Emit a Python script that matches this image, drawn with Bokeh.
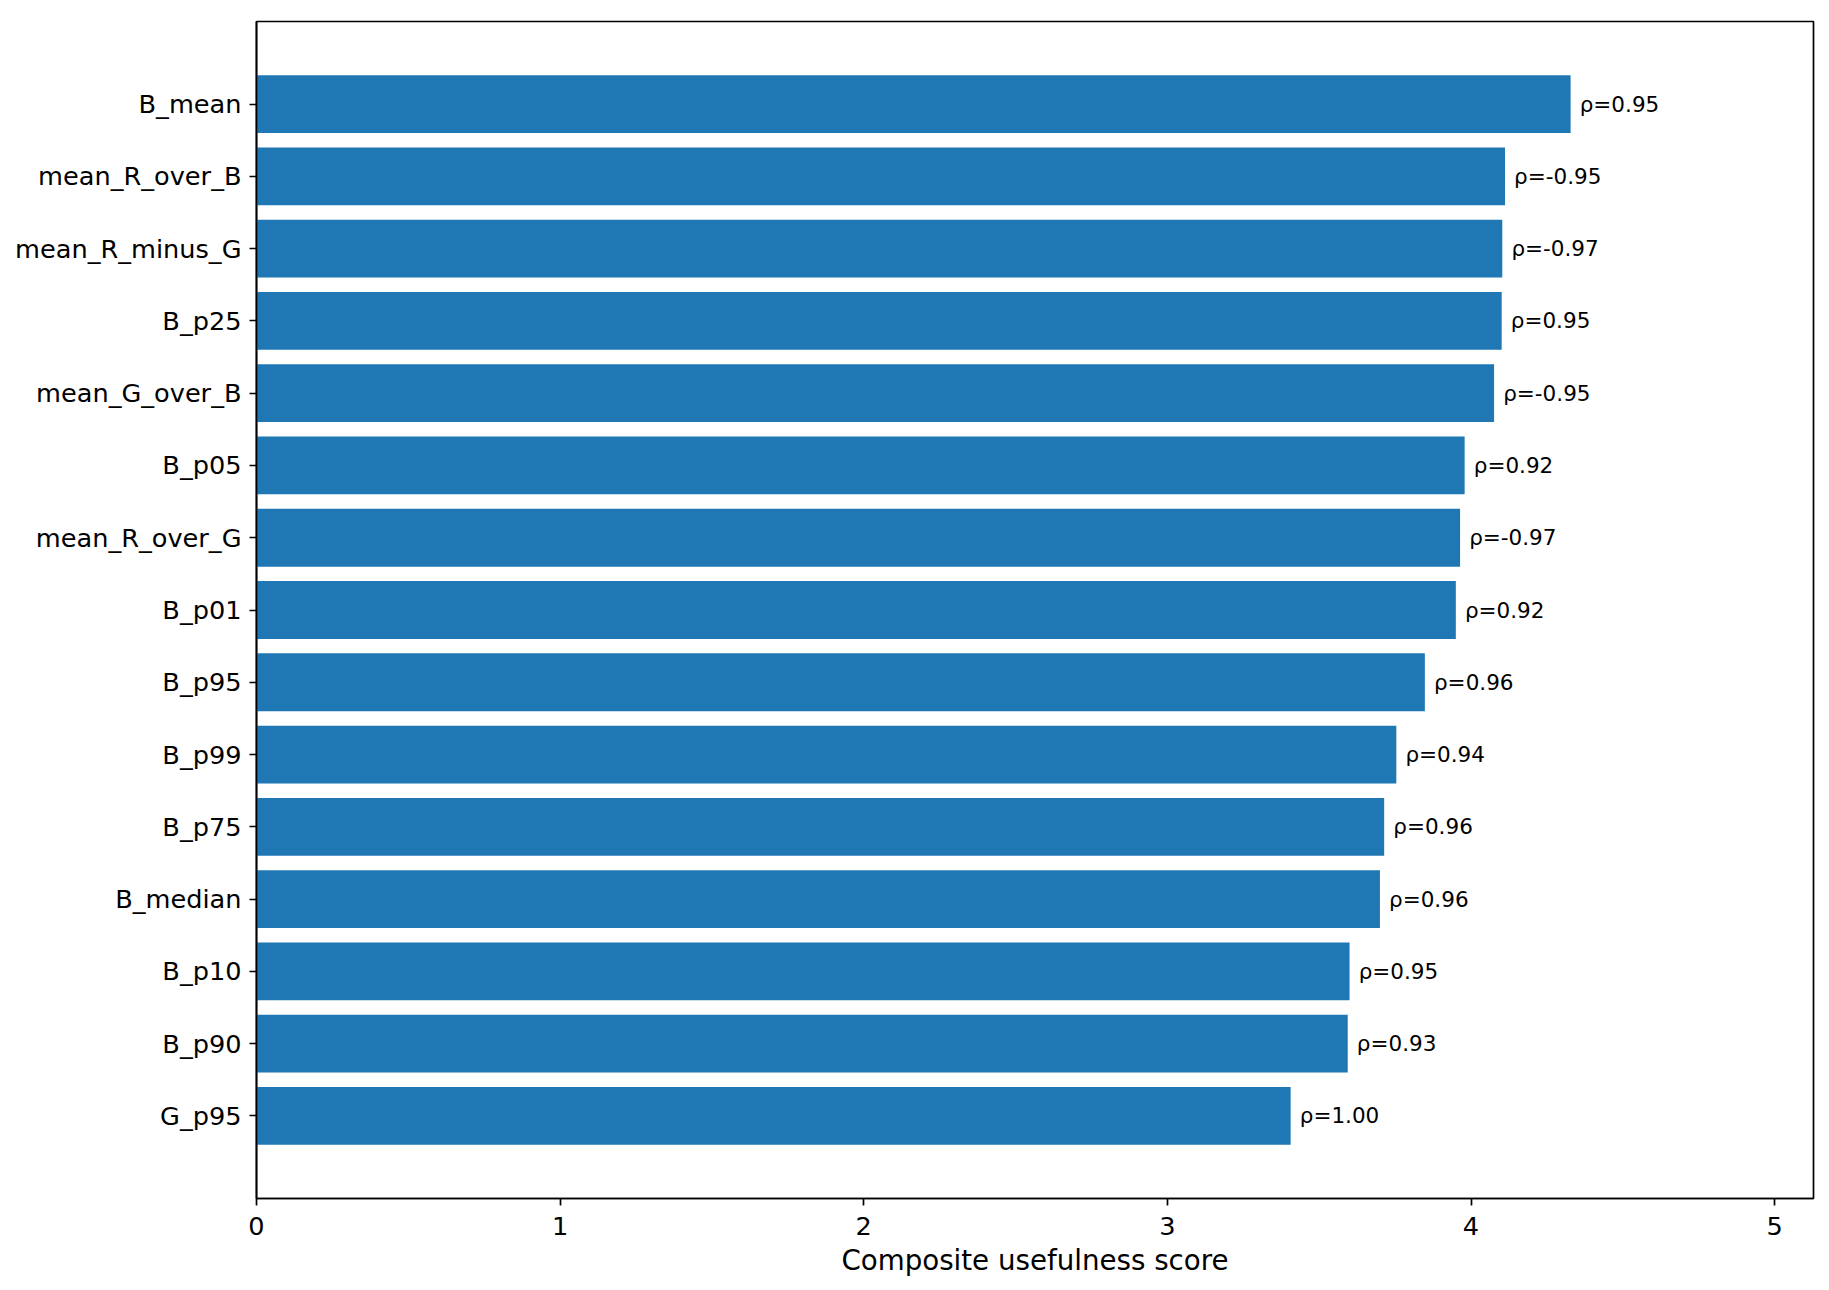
from bokeh.plotting import figure
from bokeh.models import Range1d, FixedTicker, ColumnDataSource
from bokeh.core.properties import value
from bokeh.embed import file_html
from bokeh.resources import INLINE

features = ["B_mean", "mean_R_over_B", "mean_R_minus_G", "B_p25", "mean_G_over_B",
            "B_p05", "mean_R_over_G", "B_p01", "B_p95", "B_p99", "B_p75",
            "B_median", "B_p10", "B_p90", "G_p95"]
scores = [4.328, 4.112, 4.103, 4.101, 4.076, 3.979, 3.964, 3.950, 3.848, 3.754,
          3.714, 3.700, 3.600, 3.594, 3.406]
rhos = [0.95, -0.95, -0.97, 0.95, -0.95, 0.92, -0.97, 0.92, 0.96, 0.94,
        0.96, 0.96, 0.95, 0.93, 1.00]
x_ticks = [0, 1, 2, 3, 4, 5]

n = len(features)
ypos = [n - 1 - i for i in range(n)]
labels = ["\u03c1={:.2f}".format(r) for r in rhos]

src = ColumnDataSource(dict(y=ypos, score=scores, lx=[s + 0.03 for s in scores], lab=labels))

FONT = "DejaVu Sans"
p = figure(width=1821, height=1288, output_backend="svg", toolbar_location=None,
           x_range=Range1d(0, 5.128), y_range=Range1d(-1.142, n - 1 + 1.142),
           min_border_left=256, min_border_right=8, min_border_top=21, min_border_bottom=90)

p.hbar(y="y", left=0, right="score", height=0.8, source=src,
       fill_color="#1f77b4", line_color=None)
p.text(x="lx", y="y", text="lab", source=src, text_font=value(FONT),
       text_font_size="21.5px", text_baseline="middle", text_align="left", text_color="black")

p.xgrid.visible = False
p.ygrid.visible = False
p.outline_line_color = "black"
p.outline_line_width = 1.7
p.outline_line_alpha = 1.0

p.xaxis.ticker = FixedTicker(ticks=x_ticks)
p.yaxis.ticker = FixedTicker(ticks=ypos)
p.yaxis.major_label_overrides = {y: f for y, f in zip(ypos, features)}
p.xaxis.axis_label = "Composite usefulness score"

for ax in (p.xaxis[0], p.yaxis[0]):
    ax.axis_line_color = "black"
    ax.axis_line_width = 1.7
    ax.major_tick_line_color = "black"
    ax.major_tick_line_width = 1.7
    ax.major_tick_out = 7
    ax.major_tick_in = 0
    ax.minor_tick_out = 0
    ax.minor_tick_in = 0
    ax.major_label_text_font = FONT
    ax.major_label_text_font_size = "25.6px"
    ax.major_label_text_color = "black"
    ax.axis_label_text_font = FONT
    ax.axis_label_text_font_size = "27.7px"
    ax.axis_label_text_font_style = "normal"
    ax.axis_label_text_color = "black"

p.yaxis.major_label_standoff = 8
p.xaxis.major_label_standoff = 11
p.xaxis.axis_label_standoff = 6

open("out.html", "w").write(file_html(p, INLINE))
